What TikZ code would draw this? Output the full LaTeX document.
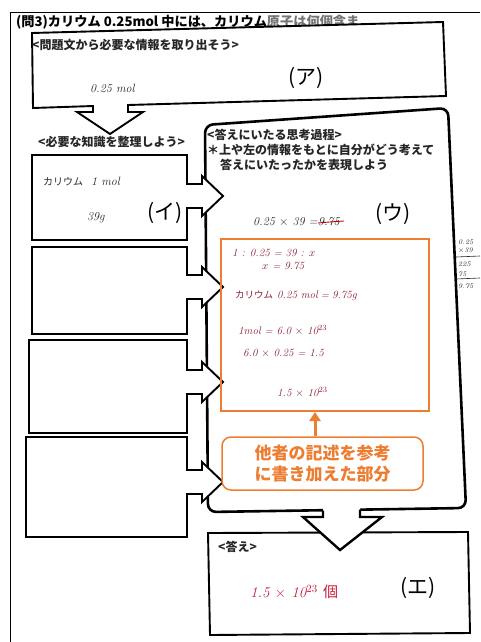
\documentclass[tikz,border=0pt]{standalone}
\usepackage{fontspec}
\newfontfamily\jp{Noto Sans CJK JP}
\usetikzlibrary{arrows.meta}
\definecolor{hw}{RGB}{140,30,50}
\definecolor{ansred}{RGB}{200,30,60}
\definecolor{org}{RGB}{237,125,49}
\definecolor{pen}{RGB}{40,40,40}
\begin{document}
\begin{tikzpicture}[x=1pt,y=-1pt,
  lbox/.style={draw=black,fill=white,line width=1.9pt,line join=miter},
  hdr/.style={font=\jp\bfseries\fontsize{12}{14}\selectfont,anchor=west,inner sep=0pt,text=black!85},
  lab/.style={font=\jp\fontsize{21}{24}\selectfont,inner sep=0pt},
  hand/.style={font=\itshape\fontsize{11}{13}\selectfont,text=hw,anchor=west,inner sep=0pt},
  handk/.style={font=\itshape\fontsize{12}{14}\selectfont,text=pen,anchor=west,inner sep=0pt},
  side/.style={font=\itshape\fontsize{7}{8}\selectfont,text=pen,anchor=west,inner sep=0pt}]
\useasboundingbox (0,0) rectangle (480,642);
\fill[white] (0,0) rectangle (480,642);
% outer frame
\draw[line width=0.8pt] (10,642) -- (10,12) -- (480,12);
% title
\node[anchor=west,inner sep=0pt,font=\jp\bfseries\fontsize{13.2}{16}\selectfont] (title) at (16,22)
  {(問3)カリウム 0.25mol 中には、カリウム\textcolor{black!55}{原子は何個含ま}};
% top box with down arrow
\draw[lbox] (32,33) -- (443,22) -- (446,96) -- (128,105) -- (128,112) -- (143,112) -- (110,134)
  -- (77,112) -- (93,112) -- (93,106) -- (33,108) -- cycle;
\node[hdr] (h1) at (32,45) {<問題文から必要な情報を取り出そう>};
\node[handk] (t1) at (90,88) {0.25 mol};
\node[lab] (la) at (306,78) {(ア)};
% left header
\node[hdr] (h2) at (38,142) {<必要な知識を整理しよう>};
% middle box
\draw[line width=2.6pt,rounded corners=8pt,fill=white] (205,125) -- (448,108) -- (466,508) -- (208,512) -- cycle;
\node[hdr] (h3) at (207,135) {<答えにいたる思考過程>};
\node[hdr] (h4) at (207,150) {＊上や左の情報をもとに自分がどう考えて};
\node[hdr] (h5) at (220,165) {答えにいたったかを表現しよう};
\node[handk] (c0) at (253,222) {0.25 $\times$ 39 = };
\node[handk,anchor=west] (c0b) at (c0.east) {9.75};
\draw[red!75!black,line width=0.9pt] ([yshift=-1pt]c0b.west) .. controls (c0b.center) .. ([xshift=4pt,yshift=1pt]c0b.east);
\node[lab] (lu) at (393,214) {(ウ)};
% left boxes with right arrows
\foreach \L/\T/\B/\c in {32/155/240/196, 32/247/334/287, 29/340/433/382, 26/437/537/482}{
  \draw[lbox] (\L,\T) -- (187,\T) -- (187,\c-12) -- (202,\c-12) -- (202,\c-20) -- (223,\c)
    -- (202,\c+20) -- (202,\c+12) -- (187,\c+12) -- (187,\B) -- (\L,\B) -- cycle;
}
\node[anchor=west,inner sep=0pt,text=pen] (k1) at (43,182) {{\jp\fontsize{10}{12}\selectfont カリウム}\hspace{8pt}{\itshape\fontsize{12}{14}\selectfont 1 mol}};
\node[handk] (k2) at (87,218) {39g};
\node[lab] (li) at (165,213) {(イ)};
% orange box and contents
\node[draw=org,line width=2pt,minimum width=208pt,minimum height=172pt,anchor=north west,inner sep=0pt] (obox) at (220,238) {};
\node[hand] (o1) at (232,253) {1 : 0.25 = 39 : $x$};
\node[hand] (o2) at (262,266) {$x$ = 9.75};
\node[hand] (o3) at (235,296) {{\upshape\jp\fontsize{9.5}{11}\selectfont カリウム}\hspace{4pt}0.25 mol\hspace{3pt}=\hspace{3pt}9.75g};
\node[hand] (o4) at (238,330) {1mol = 6.0 $\times$ 10$^{23}$};
\node[hand] (o5) at (243,353) {6.0 $\times$ 0.25 = 1.5};
\node[hand] (o6) at (277,392) {1.5 $\times$ 10$^{23}$};
% callout
\node[draw=org,line width=1.5pt,rounded corners=9pt,minimum width=201pt,minimum height=53pt,align=center,
  text=org,font=\jp\bfseries\fontsize{17}{21}\selectfont,fill=white] (call) at (322.5,463.5)
  {他者の記述を参考\\に書き加えた部分};
\coordinate (abase) at ([xshift=-7.5pt]call.north);
\coordinate (atip) at (abase |- obox.south);
\draw[org,line width=3pt,-{Triangle[width=11pt,length=9pt]}] (abase) -- (atip);
% side scribbles
\node[side] (s1) at (458,242) {0.25};
\node[side] (s2) at (458,251) {$\times$39};
\draw[pen,line width=0.6pt] (456,257) -- (480,256);
\node[side] (s3) at (458,264) {225};
\node[side] (s4) at (458,274) {75};
\draw[pen,line width=0.6pt] (456,279) -- (480,278);
\node[side] (s5) at (458,286) {9.75};
% answer box
\draw[lbox] (208,533) -- (468,532) -- (470,633) -- (210,635) -- cycle;
\node[hdr] (h6) at (218,547) {<答え>};
\node[anchor=west,inner sep=0pt,text=ansred,font=\itshape\fontsize{15}{17}\selectfont] (ans) at (250,592)
  {1.5 $\times$ 10$^{23}$ {\upshape\jp 個}};
\node[lab] (le) at (418,588) {(エ)};
% down arrow from middle box
\fill[white] (323,506) -- (323,517) -- (303,517) -- (340,550) -- (382,517) -- (360,517) -- (360,506) -- cycle;
\draw[line width=2.4pt,line join=miter] (323,510.5) -- (323,517) -- (303,517) -- (340,550) -- (382,517) -- (360,517) -- (360,509.5);
\end{tikzpicture}
\end{document}
